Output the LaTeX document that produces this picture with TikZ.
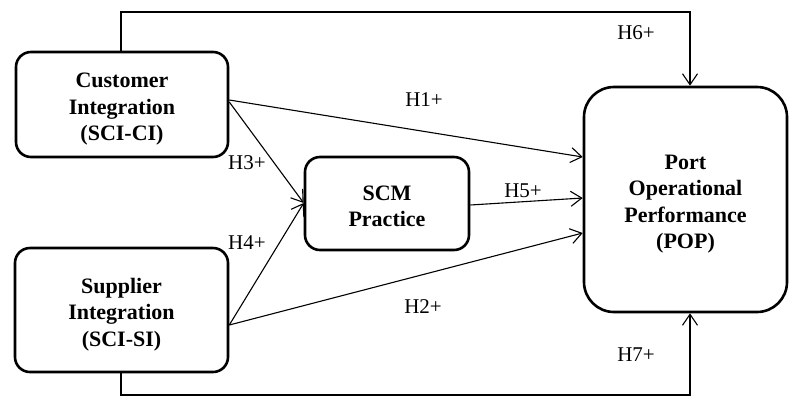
\documentclass[tikz,border=0pt]{standalone}
\usepackage{fontspec}
\setmainfont{Liberation Serif}
\usetikzlibrary{arrows.meta,calc}
\newcommand{\padtop}[1]{\rule{0pt}{#1}}
\begin{document}
\begin{tikzpicture}[x=1pt,y=-1pt,
  box/.style={draw,line width=2.6pt,rounded corners=15pt,align=center,inner sep=0pt,
     font=\fontsize{22}{26.5}\selectfont\bfseries},
  link/.style={line width=1.1pt,-{Straight Barb[length=11pt,width=15pt,line width=1.1pt]}},
  lbl/.style={font=\fontsize{21}{24}\selectfont,inner sep=0pt}]
\useasboundingbox (0,0) rectangle (789,397);
\node[box,minimum width=212pt,minimum height=105pt] (CI) at (122,104.5) {\padtop{24pt}Customer\\Integration\\(SCI-CI)};
\node[box,minimum width=213pt,minimum height=124pt] (SI) at (121.5,310) {\padtop{24pt}Supplier\\Integration\\(SCI-SI)};
\node[box,minimum width=164pt,minimum height=93pt] (SCM) at (387,203.5) {\padtop{20pt}SCM\\Practice};
\node[box,minimum width=203pt,minimum height=225pt,rounded corners=30pt] (POP) at (685.5,199.5) {\padtop{24pt}Port\\Operational\\Performance\\(POP)};
\coordinate (ciA) at (CI.east |- 0,100);
\coordinate (ciB) at (CI.east |- 0,102);
\coordinate (siA) at (SI.east |- 0,325);
\coordinate (scmIn) at (SCM.west |- 0,203);
\coordinate (scmOut) at (SCM.east |- 0,205);
\coordinate (popA) at (POP.west |- 0,157);
\coordinate (popB) at (POP.west |- 0,198);
\coordinate (popC) at (POP.west |- 0,233);
\coordinate (ciTop) at (CI.north -| 121,0);
\coordinate (siBot) at (SI.south -| 121,0);
\coordinate (popTop) at (POP.north -| 690,0);
\coordinate (popBot) at (POP.south -| 690,0);
\draw[link] (ciA) -- (popA);
\draw[link] (ciB) -- (scmIn);
\draw[link] (siA) -- (scmIn);
\draw[link] (siA) -- (popC);
\draw[link] (scmOut) -- (popB);
\draw[link] (ciTop) |- (690,12) -- (popTop);
\draw[link] (siBot) |- (690,395) -- (popBot);
\node[lbl] (h1) at (424,100) {H1+};
\node[lbl] (h2) at (423,307) {H2+};
\node[lbl] (h3) at (247,163) {H3+};
\node[lbl] (h4) at (247,243) {H4+};
\node[lbl] (h5) at (523,191) {H5+};
\node[lbl] (h6) at (636,33) {H6+};
\node[lbl] (h7) at (636,355) {H7+};
\end{tikzpicture}
\end{document}
